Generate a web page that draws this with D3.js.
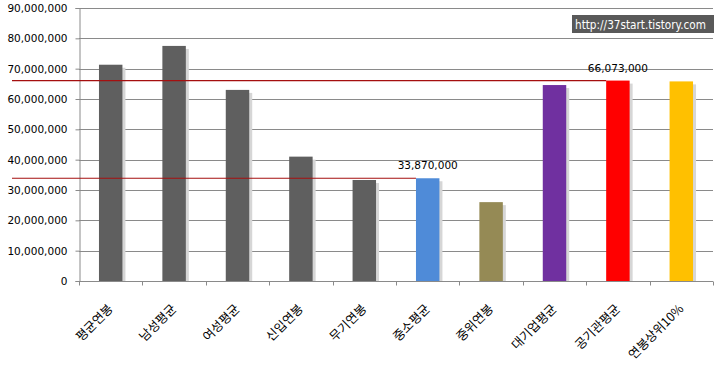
<!DOCTYPE html>
<html><head><meta charset="utf-8">
<script src="https://cdn.jsdelivr.net/npm/d3@7"></script>
<style>html,body{margin:0;padding:0;background:#fff;}</style>
</head><body>
<script>
const categories = ["평균연봉","남성평균","여성평균","신입연봉","무기연봉","중소평균","중위연봉","대기업평균","공기관평균","연봉상위10%"];
const values = [71300000, 77500000, 63000000, 41000000, 33300000, 33870000, 26000000, 64600000, 66073000, 65800000];
const barColors = ["#5f5f5f","#5f5f5f","#5f5f5f","#5f5f5f","#5f5f5f","#4f8bd8","#958a55","#7030a0","#ff0000","#ffc000"];
const yTicks = [0,10000000,20000000,30000000,40000000,50000000,60000000,70000000,80000000,90000000];
const labeledIdx = [5, 8];          // bars with value labels
const refLines = [5, 8];            // reference lines drawn to these bars
const watermark = "http://37start.tistory.com";

const W = 720, H = 365;
const m = {left: 79, right: 7, top: 8, bottom: 84};
const svg = d3.select("body").append("svg").attr("width", W).attr("height", H);
const x = d3.scaleBand().domain(categories).range([m.left, W - m.right]).paddingInner(0.63).paddingOuter(0.315);
const y = d3.scaleLinear().domain([0, 90000000]).range([H - m.bottom, m.top]);
const fmt = d3.format(",");

// gridlines
svg.append("g").selectAll("line").data(yTicks.filter(d => d > 0)).join("line")
  .attr("x1", m.left).attr("x2", W - m.right)
  .attr("y1", d => Math.round(y(d)) + 0.5).attr("y2", d => Math.round(y(d)) + 0.5)
  .attr("stroke", "#8a8a8a").attr("stroke-width", 1);

// y axis
const yAxis = svg.append("g").attr("transform", `translate(${m.left + 0.5},0)`)
  .call(d3.axisLeft(y).tickValues(yTicks).tickFormat(fmt).tickSize(4).tickPadding(8));
yAxis.select(".domain").attr("stroke", "#8a8a8a");
yAxis.selectAll(".tick line").attr("stroke", "#8a8a8a");
yAxis.selectAll(".tick text").attr("font-family", "DejaVu Sans").attr("font-size", "10.5px").attr("fill", "#000");

// bar shadows
svg.append("g").selectAll("rect").data(values).join("rect")
  .attr("x", (d, i) => x(categories[i]) + 3)
  .attr("y", d => y(d) + 3)
  .attr("width", x.bandwidth())
  .attr("height", d => y(0) - y(d) - 3)
  .attr("fill", "#d6d6d6");

// bars
svg.append("g").selectAll("rect").data(values).join("rect")
  .attr("x", (d, i) => x(categories[i]))
  .attr("y", d => y(d))
  .attr("width", x.bandwidth())
  .attr("height", d => y(0) - y(d))
  .attr("fill", (d, i) => barColors[i]);

// x axis
const xAxisG = svg.append("g").attr("transform", `translate(0,${Math.round(y(0)) + 0.5})`);
xAxisG.append("line").attr("x1", m.left).attr("x2", W - m.right).attr("stroke", "#8a8a8a");
const bounds = categories.map(c => x(c) - x.step() * x.paddingInner() / 2).concat([W - m.right]);
xAxisG.selectAll("line.tk").data(bounds).join("line").attr("class", "tk")
  .attr("x1", d => Math.round(d) + 0.5).attr("x2", d => Math.round(d) + 0.5)
  .attr("y1", 0).attr("y2", 4).attr("stroke", "#8a8a8a");
xAxisG.selectAll("text").data(categories).join("text")
  .attr("transform", d => `translate(${x(d) + x.bandwidth() / 2 + 3},${28}) rotate(-45)`)
  .attr("text-anchor", "end")
  .attr("font-family", "Noto Sans CJK KR").attr("font-size", "12.5px").attr("fill", "#000")
  .text(d => d);

// reference lines
svg.append("g").selectAll("line").data(refLines).join("line")
  .attr("x1", 12).attr("x2", i => x(categories[i]))
  .attr("y1", i => y(values[i])).attr("y2", i => y(values[i]))
  .attr("stroke", "#a50f0f").attr("stroke-width", 1.2);

// value labels
svg.append("g").selectAll("text").data(labeledIdx).join("text")
  .attr("x", i => x(categories[i]) + x.bandwidth() / 2)
  .attr("y", i => y(values[i]) - 9)
  .attr("text-anchor", "middle")
  .attr("font-family", "DejaVu Sans").attr("font-size", "10.5px").attr("fill", "#000")
  .text(i => fmt(values[i]));

// watermark
const wm = svg.append("g");
wm.append("rect").attr("x", 572).attr("y", 15).attr("width", 142).attr("height", 18).attr("fill", "#595959");
wm.append("text").attr("x", 575).attr("y", 28.5)
  .attr("font-family", "DejaVu Sans").attr("font-size", "11.5px").attr("fill", "#fff")
  .attr("textLength", 131).attr("lengthAdjust", "spacingAndGlyphs")
  .text(watermark);
</script>
</body></html>
